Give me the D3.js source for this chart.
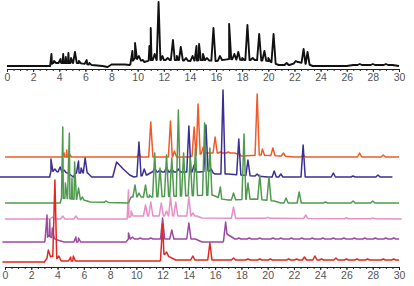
<!DOCTYPE html>
<html>
<head>
<meta charset="utf-8">
<script src="https://cdn.jsdelivr.net/npm/d3@7"></script>
<style>
  body { margin: 0; background: #fff; }
  svg { display: block; }
  .axis text { font-family: "Liberation Sans", Arial, sans-serif; font-size: 10.5px; fill: #555; }
  .axis path, .axis line { stroke: #222; }
</style>
</head>
<body>
<div id="chart"></div>
<script>
// retention time ticks (min)
const tickValues = d3.range(0, 31, 2);

// top (black) chromatogram: peaks [time, height] and slow baseline [time, level]
const topPeaks = [
  [3.4, 12], [3.6, 5], [4.1, 7], [4.3, 12], [4.5, 9], [4.7, 13], [4.9, 8], [5.2, 14], [5.5, 5],
  [6.1, 6], [6.3, 3], [9.6, 15], [9.8, 23], [10.1, 10], [10.4, 6], [10.9, 20], [11.0, 38],
  [11.3, 12], [11.6, 64], [11.9, 10], [12.3, 8], [12.7, 26], [13.0, 10], [13.3, 19], [13.7, 8],
  [14.2, 10], [14.5, 20], [14.7, 22], [15.0, 12], [15.3, 8], [15.8, 38], [16.3, 10], [17.0, 42],
  [17.4, 12], [17.7, 14], [18.0, 8], [18.4, 41], [18.8, 8], [19.3, 32], [19.7, 15], [20.0, 8],
  [20.4, 32], [21.4, 3], [22.1, 5], [22.7, 17], [23.0, 14], [27.0, 1], [28.0, 1.5], [29.0, 1]
];
const topBase = [
  [0, 0], [3.3, 0], [3.5, 3], [5.5, 3], [6.5, 1], [7.3, 0], [7.7, -1], [8.0, 1.5], [9.0, 1.5],
  [9.4, 1], [9.8, 8], [10.5, 4], [11, 6], [12, 6], [13, 6], [14, 5], [15, 6], [16, 5], [17, 7],
  [18, 6], [19, 6], [20, 5], [20.8, 1], [21.6, 1], [22.3, 4], [23.2, 1], [23.4, 0], [26, 0],
  [26.5, 1], [29.5, 1], [30, 0]
];

// stacked traces, top to bottom
const traceNames = ["orange", "blue", "green", "pink", "purple", "red"];
const traceColors = ["#f05a28", "#3b2f93", "#4f9a4f", "#e88fc6", "#9b4aa0", "#e4261f"];
const traceOffsets = [108, 88, 62, 46, 23, 3];

const orangePeaks = [
  [4.5, 4], [4.7, 7], [4.9, 3], [10.2, 3], [11.1, 35], [12.6, 36], [12.9, 6], [14.4, 30],
  [14.7, 53], [15.1, 10], [16.0, 20], [16.4, 4], [17.0, 3], [17.8, 4], [19.2, 63], [19.6, 8],
  [20.4, 9], [21.2, 4], [22.7, 2], [27.0, 4], [28.8, 2]
];
const orangeBase = [[0, 0], [14, 0], [15.2, 4], [17.5, 4], [18, 1], [19.5, 2], [21, 1], [22, 0], [30, 0]];

const bluePeaks = [
  [3.5, 18], [3.8, 8], [4.2, 10], [4.5, 7], [5.6, 16], [5.8, 9], [6.1, 19], [10.2, 35], [10.6, 8],
  [11.4, 9], [11.8, 7], [12.3, 10], [12.7, 8], [13.2, 8], [14.0, 51], [14.4, 12], [15.3, 52],
  [15.7, 8], [16.6, 87], [17.8, 38], [18.5, 17], [19.2, 3], [20.5, 6], [21.0, 3], [22.7, 32],
  [25.0, 4], [26.5, 1], [28.4, 2]
];
const blueBase = [
  [-0.4, 0], [3.4, 0], [3.5, 6], [4.8, 4], [5.2, 0], [5.4, 4], [6.3, 4], [6.6, 0], [8.2, 0],
  [8.5, 15], [9.0, 8], [9.5, 2], [9.8, 0], [10.8, 2], [11.2, 5], [14.8, 5], [15.5, 6], [16.0, 3],
  [17.0, 3], [19.0, 1], [20, 0], [29.5, 0]
];

const greenPeaks = [
  [4.4, 76], [4.6, 20], [4.9, 70], [5.1, 25], [5.3, 41], [5.6, 15], [5.9, 6], [7.7, 2], [9.9, 18],
  [10.2, 10], [10.7, 18], [11.0, 8], [11.4, 50], [11.8, 35], [12.3, 48], [12.7, 45], [13.2, 93],
  [13.6, 50], [14.1, 45], [14.5, 55], [15.2, 80], [15.6, 55], [16.4, 16], [17.4, 10], [18.2, 69],
  [18.5, 20], [19.4, 28], [20.1, 26], [21.4, 5], [22.4, 11], [24.4, 1], [26.5, 2], [28.0, 2]
];
const greenBase = [
  [0, 0], [4.2, 0], [4.3, 5], [6.0, 3], [6.5, 1], [9.4, 0], [9.6, 6], [11, 6], [15.8, 8],
  [16.5, 4], [17, 3], [19, 4], [20.5, 2], [21, 0], [30, 0]
];

const pinkPeaks = [
  [3.6, 2], [4.4, 3], [5.4, 3], [9.4, 29], [9.6, 8], [10.7, 14], [11.1, 17], [11.9, 16], [12.3, 8],
  [12.6, 22], [13.0, 17], [14.0, 22], [14.3, 6], [17.4, 12], [20.0, 1], [22.9, 4], [26.0, 1], [28.0, 1]
];
const pinkBase = [[0, 0], [9.3, 0], [9.6, 3], [14.6, 3], [15, 1], [30.2, 0]];

const purplePeaks = [
  [3.2, 27], [3.4, 22], [3.6, 14], [5.4, 5], [5.6, 4], [9.4, 9], [9.7, 5], [10.3, 4], [11.1, 4],
  [12.0, 24], [12.7, 12], [14.0, 19], [16.8, 20], [17.8, 3], [18.6, 2], [19.4, 3], [20.4, 4],
  [21.0, 2], [21.8, 3], [22.6, 2], [23.4, 3], [24.2, 2], [25.0, 3], [25.8, 2], [26.6, 3],
  [27.4, 2], [28.2, 3], [29.0, 2], [29.6, 3]
];
const purpleBase = [
  [-0.2, 0], [3.0, 0], [3.3, 6], [4.0, 2], [4.5, 0], [9.2, 0], [9.4, 3], [14.5, 3], [15, 0],
  [16.6, 0], [16.9, 8], [17.5, 3], [30, 3]
];

const redPeaks = [
  [3.3, 12], [3.8, 82], [4.1, 6], [5.0, 5], [5.2, 6], [12.0, 38], [12.3, 10], [14.3, 6], [15.6, 19],
  [17.4, 4], [18.5, 2], [19.4, 2], [20.2, 2], [21.6, 3], [22.2, 2], [22.8, 5], [23.6, 6], [24.1, 3],
  [25.2, 4], [26.0, 3], [26.8, 2], [27.6, 2], [28.8, 3], [29.6, 2]
];
const redBase = [[-0.2, 0], [3.0, 0], [3.2, 4], [3.6, 6], [4.3, 1], [11.8, 1], [12.1, 8], [13, 2], [30, 2]];

const tracePeaks = [orangePeaks, bluePeaks, greenPeaks, pinkPeaks, purplePeaks, redPeaks];
const traceBases = [orangeBase, blueBase, greenBase, pinkBase, purpleBase, redBase];
const drawOrder = ["orange", "blue", "pink", "purple", "green", "red"];

const width = 414, height = 286;
const peakHalfWidth = 0.16;

const svg = d3.select("#chart").append("svg")
  .attr("width", width)
  .attr("height", height);

const xTop = d3.scaleLinear().domain([0, 30]).range([7, 399]);
const xBot = d3.scaleLinear().domain([0, 30]).range([5, 399]);
const yTop = d3.scaleLinear().domain([0, 64]).range([66, 2]);
const yBot = d3.scaleLinear().domain([0, 185]).range([265, 80]);

// turn a peak list + baseline into the vertices of the trace
const tracePoints = (peaks, base) => {
  const baseAt = d3.scaleLinear()
    .domain(base.map(d => d[0]))
    .range(base.map(d => d[1]))
    .clamp(true);
  const pts = base.map(d => [d[0], d[1]]);
  peaks.forEach(([t, h]) => {
    pts.push([t - peakHalfWidth, baseAt(t - peakHalfWidth)]);
    pts.push([t, Math.max(h, baseAt(t) + 1)]);
    pts.push([t + peakHalfWidth, baseAt(t + peakHalfWidth)]);
  });
  return pts.sort((a, b) => a[0] - b[0]);
};

const drawAxis = (x, y) => {
  const g = svg.append("g")
    .attr("class", "axis")
    .attr("transform", `translate(0,${y})`);
  g.call(d3.axisBottom(x).tickValues(d3.range(0, 30.5, 0.5)).tickSize(2).tickSizeOuter(0).tickFormat(""));
  const major = svg.append("g")
    .attr("class", "axis")
    .attr("transform", `translate(0,${y})`)
    .call(d3.axisBottom(x).tickValues(tickValues).tickSize(3).tickSizeOuter(0).tickPadding(2).tickFormat(d3.format("d")));
  major.select(".domain").remove();
};

// top panel
drawAxis(xTop, 69);
svg.append("path")
  .datum(tracePoints(topPeaks, topBase))
  .attr("fill", "none")
  .attr("stroke", "#111")
  .attr("stroke-width", 1.9)
  .attr("stroke-linejoin", "round")
  .attr("d", d3.line().x(d => xTop(d[0])).y(d => yTop(d[1])));

// bottom panel
drawAxis(xBot, 267);
drawOrder.forEach(name => {
  const i = traceNames.indexOf(name);
  const off = traceOffsets[i];
  svg.append("path")
    .datum(tracePoints(tracePeaks[i], traceBases[i]))
    .attr("fill", "none")
    .attr("stroke", traceColors[i])
    .attr("stroke-width", 1.5)
    .attr("stroke-linejoin", "round")
    .attr("d", d3.line().x(d => xBot(d[0])).y(d => yBot(off + d[1])));
});
</script>
</body>
</html>
